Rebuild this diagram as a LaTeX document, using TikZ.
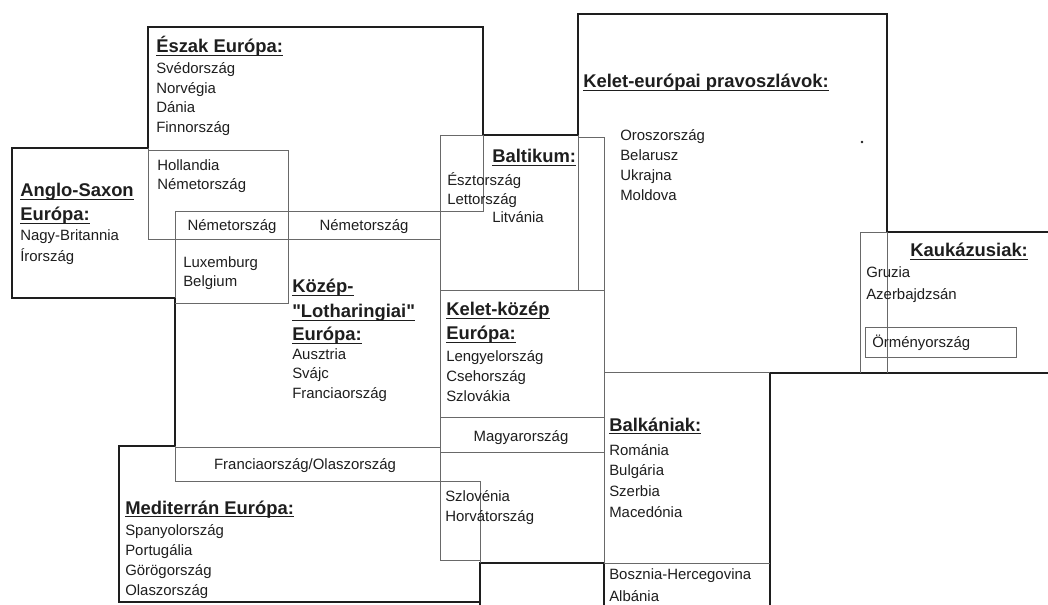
\documentclass[tikz,border=0pt]{standalone}
\usepackage{fontspec}
\setmainfont{Liberation Sans}[Ligatures=TeXOff]
\usepackage{tikz}
\definecolor{inkdark}{RGB}{30,30,30}
\definecolor{scangray}{RGB}{105,105,105}
\newsavebox{\hdbox}
\newcommand{\hdline}[1]{\sbox{\hdbox}{#1}\rlap{\rule[-2.6pt]{\wd\hdbox}{0.9pt}}\usebox{\hdbox}}
\tikzset{
  thickline/.style={line width=2.1pt, color=inkdark},
  thinline/.style={line width=0.6pt, color=scangray},
  hdr/.style={anchor=base west, inner sep=0pt, text=inkdark,
    font=\fontsize{13.8}{16}\selectfont\bfseries},
  item/.style={anchor=base west, inner sep=0pt, text=inkdark,
    font=\fontsize{11.2}{14}\selectfont},
  itemc/.style={item, anchor=base}
}

\begin{document}
\begin{tikzpicture}[x=0.75pt, y=-0.75pt]
  \useasboundingbox (0,0) rectangle (1048,605);
  \fill[white] (0,0) rectangle (1048,605);

  % Thick region outlines
  \draw[thickline] (483,135) -- (483,27) -- (148,27) -- (148,148) -- (12,148) -- (12,298)
    -- (175,298) -- (175,446) -- (119,446) -- (119,602) -- (480,602);
  \draw[thickline] (483,135) -- (578,135) -- (578,14) -- (887,14) -- (887,232) -- (1052,232);
  \draw[thickline] (480,610) -- (480,563) -- (604,563) -- (604,610);
  \draw[thickline] (770,610) -- (770,373) -- (1052,373);

  % Thin overlap boxes
  \draw[thinline] (148,148) -- (148,239) -- (440,239);
  \draw[thinline] (148,150) -- (288,150) -- (288,303) -- (175,303);
  \draw[thinline] (175,298) -- (175,211) -- (483,211) -- (483,135) -- (440,135);
  \draw[thinline] (175,446) -- (175,481) -- (480,481) -- (480,563);
  \draw[thinline] (175,447) -- (440,447);
  \draw[thinline] (440,135) -- (440,560) -- (480,560);
  \draw[thinline] (578,135) -- (578,290);
  \draw[thinline] (578,137) -- (604,137) -- (604,563);
  \draw[thinline] (440,290) -- (604,290);
  \draw[thinline] (440,417) -- (604,417);
  \draw[thinline] (440,452) -- (604,452);
  \draw[thinline] (604,372) -- (770,372);
  \draw[thinline] (604,563) -- (770,563);
  \draw[thinline] (887,232) -- (860,232) -- (860,373);
  \draw[thinline] (887,232) -- (887,373);
  \draw[thinline] (865,327) rectangle (1016,357);
  \fill[inkdark] (862,142) circle (1.3);

  % Eszak Europa
  \node[hdr] (eszak) at (156,53) {\hdline{Észak Európa:}};
  \foreach \c [count=\i from 0] in {Svédország, Norvégia, Dánia, Finnország}
    \node[item] (eszak\i) at (156,74+19.5*\i) {\c};
  \node[item] (holl) at (157,171) {Hollandia};
  \node[item] (nemet1) at (157,190) {Németország};

  % Anglo-Saxon Europa
  \node[hdr] (anglo) at (20,197) {\hdline{Anglo-Saxon}};
  \node[hdr] (anglo2) at (20,221) {\hdline{Európa:}};
  \node[item] (brit) at (20,241) {Nagy-Britannia};
  \node[item] (ir) at (20,262) {Írország};

  % Nemetorszag row
  \node[itemc] (nemet2) at (232,231) {Németország};
  \node[itemc] (nemet3) at (364,231) {Németország};
  \node[item] (lux) at (183,268) {Luxemburg};
  \node[item] (belg) at (183,287) {Belgium};

  % Kozep "Lotharingiai" Europa
  \node[hdr] (kozep) at (292,293) {\hdline{Közép-}};
  \node[hdr] (kozep2) at (292,318) {\hdline{"Lotharingiai"}};
  \node[hdr] (kozep3) at (292,341) {\hdline{Európa:}};
  \foreach \c [count=\i from 0] in {Ausztria, Svájc, Franciaország}
    \node[item] (kozep\i) at (292,359+19.5*\i) {\c};
  \node[itemc] (frol) at (305,469) {Franciaország/Olaszország};

  % Mediterran Europa
  \node[hdr] (medit) at (125,514) {\hdline{Mediterrán Európa:}};
  \foreach \c [count=\i from 0] in {Spanyolország, Portugália, Görögország, Olaszország}
    \node[item] (medit\i) at (125,535+20*\i) {\c};

  % Baltikum
  \node[hdr] (balt) at (492,163) {\hdline{Baltikum:}};
  \node[item] (eszt) at (447,186) {Észtország};
  \node[item] (lett) at (447,205) {Lettország};
  \node[item] (litv) at (492,223) {Litvánia};

  % Kelet-europai pravoszlavok
  \node[hdr] (pravo) at (583,88) {\hdline{Kelet-európai pravoszlávok:}};
  \foreach \c [count=\i from 0] in {Oroszország, Belarusz, Ukrajna, Moldova}
    \node[item] (pravo\i) at (620,141+19.7*\i) {\c};

  % Kaukazusiak
  \node[hdr] (kauk) at (910,257) {\hdline{Kaukázusiak:}};
  \node[item] (gruz) at (866,278) {Gruzia};
  \node[item] (azer) at (866,300) {Azerbajdzsán};
  \node[item] (orm) at (872,348) {Örményország};

  % Kelet-kozep Europa
  \node[hdr] (kk) at (446,316) {\hdline{Kelet-közép}};
  \node[hdr] (kk2) at (446,340) {\hdline{Európa:}};
  \foreach \c [count=\i from 0] in {Lengyelország, Csehország, Szlovákia}
    \node[item] (kk\i) at (446,362+20*\i) {\c};
  \node[itemc] (magy) at (521,441) {Magyarország};
  \node[item] (szlov) at (445,501) {Szlovénia};
  \node[item] (horv) at (445,521) {Horvátország};

  % Balkaniak
  \node[hdr] (balk) at (609,431) {\hdline{Balkániak:}};
  \foreach \c [count=\i from 0] in {Románia, Bulgária, Szerbia, Macedónia}
    \node[item] (balk\i) at (609,455+20.7*\i) {\c};
  \node[item] (bosz) at (609,579) {Bosznia-Hercegovina};
  \node[item] (alb) at (609,601) {Albánia};
\end{tikzpicture}
\end{document}
